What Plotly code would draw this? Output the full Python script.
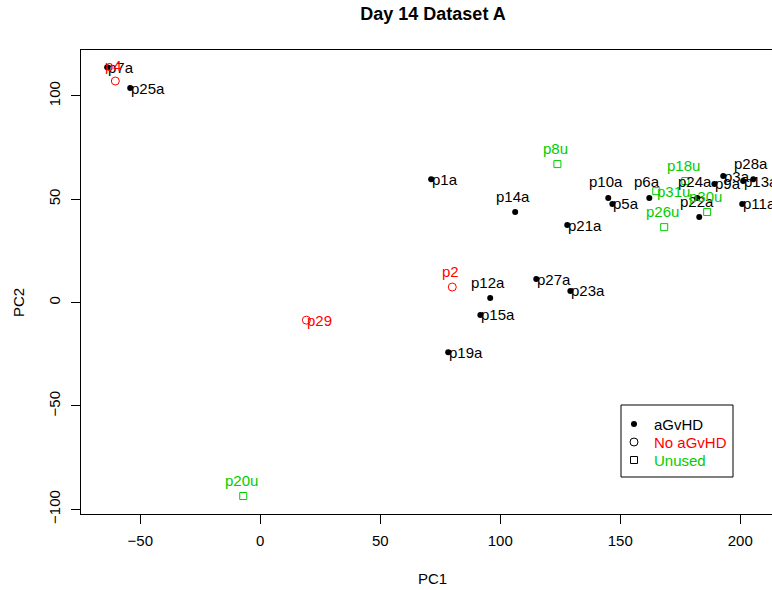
import plotly.graph_objects as go

# ---- data (PC1, PC2) ----
agvhd_names = ["p7a", "p25a", "p1a", "p14a", "p10a", "p5a", "p6a", "p24a", "p9a", "p3a",
               "p28a", "p13a", "p11a", "p22a", "p21a", "p12a", "p27a", "p23a", "p15a", "p19a"]
agvhd_pc1 = [-63.8, -54.2, 71.2, 106.2, 145.0, 146.7, 162.1, 182.1, 189.2, 192.9,
             205.4, 201.2, 200.8, 182.9, 127.9, 95.8, 115.0, 129.2, 91.7, 78.3]
agvhd_pc2 = [113.9, 103.8, 59.7, 43.8, 50.6, 47.7, 50.6, 50.6, 57.4, 61.2,
             59.7, 58.8, 47.7, 41.4, 37.5, 2.2, 11.4, 5.6, -6.0, -24.0]
agvhd_pos = ["r", "r", "r", "t", "t", "r", "t", "t", "r", "r",
             "t", "r", "r", "t", "r", "t", "r", "r", "r", "r"]

noagvhd_names = ["p4", "p2", "p29"]
noagvhd_pc1 = [-60.4, 80.0, 19.2]
noagvhd_pc2 = [107.2, 7.5, -8.5]
noagvhd_pos = ["t", "t", "r"]

unused_names = ["p8u", "p20u", "p26u", "p30u", "p31u", "p18u"]
unused_pc1 = [123.8, -7.1, 168.3, 186.2, 165.0, 177.1]
unused_pc2 = [67.0, -93.6, 36.5, 43.8, 53.9, 58.8]
unused_pos = ["t", "t", "t", "t", "r", "t"]

legend_labels = ["aGvHD", "No aGvHD", "Unused"]
legend_rows = [0, 1, 2]

x_ticks = [-50, 0, 50, 100, 150, 200]
y_ticks = [-100, -50, 0, 50, 100]

BLACK = "#000000"
RED = "#FF0000"
GREEN = "#00CD00"
FONT = "Liberation Sans, Arial, Helvetica, sans-serif"

W, H = 772, 590
ML, MT, MB, MR = 81, 50, 76, 0
PW, PH = W - ML - MR, H - MT - MB
PX_PER_X = 2.40
X_LEFT = -74.7
X_RIGHT = X_LEFT + PW / PX_PER_X
Y_RANGE = [-102.3, 122.2]


def px_x(px):
    return (px - ML) / PW


def px_y(py):
    return (H - MB - py) / PH


fig = go.Figure()

groups = [
    ("aGvHD", agvhd_names, agvhd_pc1, agvhd_pc2, agvhd_pos, BLACK,
     dict(symbol="circle", size=6, color=BLACK)),
    ("No aGvHD", noagvhd_names, noagvhd_pc1, noagvhd_pc2, noagvhd_pos, RED,
     dict(symbol="circle-open", size=8, color=RED, line=dict(width=1, color=RED))),
    ("Unused", unused_names, unused_pc1, unused_pc2, unused_pos, GREEN,
     dict(symbol="square-open", size=7, color=GREEN, line=dict(width=1, color=GREEN))),
]

annotations = []
for gname, names, xs, ys, poss, col, mk in groups:
    fig.add_trace(go.Scatter(x=xs, y=ys, mode="markers", marker=mk,
                             showlegend=False, hoverinfo="text", text=names))
    for n, x, y, p in zip(names, xs, ys, poss):
        if p == "r":
            annotations.append(dict(x=x, y=y, text=n, showarrow=False, xanchor="left",
                                    yanchor="middle", xshift=-1, yshift=0,
                                    font=dict(size=15, color=col, family=FONT)))
        else:
            annotations.append(dict(x=x, y=y, text=n, showarrow=False, xanchor="center",
                                    yanchor="middle", xshift=-2, yshift=16,
                                    font=dict(size=15, color=col, family=FONT)))

# ---- manual legend: key symbols on a small overlay axis ----
legend_colors = [BLACK, RED, GREEN]
legend_markers = [
    dict(symbol="circle", size=6, color=BLACK),
    dict(symbol="circle-open", size=8, color=BLACK, line=dict(width=1, color=BLACK)),
    dict(symbol="square-open", size=7, color=BLACK, line=dict(width=1, color=BLACK)),
]
for lab, row, mk in zip(legend_labels, legend_rows, legend_markers):
    fig.add_trace(go.Scatter(x=[0], y=[row], xaxis="x2", yaxis="y2", mode="markers",
                             marker=mk, showlegend=False, hoverinfo="skip", cliponaxis=False))
    annotations.append(dict(x=px_x(653), xref="paper", y=row, yref="y2", text=lab,
                            showarrow=False, xanchor="left", yanchor="middle", xshift=-1,
                            font=dict(size=15, color=legend_colors[row], family=FONT)))

shapes = [dict(type="rect", xref="paper", yref="paper", x0=px_x(621), x1=px_x(733),
               y0=px_y(477), y1=px_y(405), line=dict(color=BLACK, width=1),
               fillcolor="rgba(0,0,0,0)", layer="above")]

# axis titles
annotations.append(dict(text="PC1", xref="paper", yref="paper", x=px_x(433),
                        y=px_y(578), showarrow=False,
                        xanchor="center", yanchor="middle",
                        font=dict(size=15, color=BLACK, family=FONT)))
annotations.append(dict(text="PC2", xref="paper", yref="paper", x=px_x(18),
                        y=px_y(303), showarrow=False, textangle=-90,
                        xanchor="center", yanchor="middle",
                        font=dict(size=15, color=BLACK, family=FONT)))

fig.update_layout(
    width=W, height=H,
    margin=dict(l=ML, r=MR, t=MT, b=MB, pad=0),
    paper_bgcolor="white", plot_bgcolor="white",
    font=dict(family=FONT, size=15, color=BLACK),
    title=dict(text="<b>Day 14 Dataset A</b>", x=433 / W, xref="container", xanchor="center",
               y=1 - 14 / H, yref="container", yanchor="middle",
               font=dict(size=18, color=BLACK, family=FONT)),
    xaxis=dict(range=[X_LEFT, X_RIGHT], tickvals=x_ticks, ticks="outside", ticklen=9,
               tickcolor=BLACK, tickwidth=1, showline=True, linecolor=BLACK, linewidth=1,
               mirror=True, showgrid=False, zeroline=False, ticklabelstandoff=4,
               tickfont=dict(size=15, color=BLACK, family=FONT)),
    yaxis=dict(range=Y_RANGE, tickvals=y_ticks, ticks="outside", ticklen=9,
               tickcolor=BLACK, tickwidth=1, showline=True, linecolor=BLACK, linewidth=1,
               mirror=False, showgrid=False, zeroline=False, tickangle=-90,
               ticklabelstandoff=5, tickfont=dict(size=15, color=BLACK, family=FONT)),
    xaxis2=dict(domain=[px_x(629), px_x(639)], range=[-1, 1], visible=False,
                anchor="y2", fixedrange=True),
    yaxis2=dict(domain=[px_y(469), px_y(415)], range=[2.5, -0.5], visible=False,
                anchor="x2", fixedrange=True),
    shapes=shapes,
    annotations=annotations,
    showlegend=False,
)

fig.write_html("out.html")
